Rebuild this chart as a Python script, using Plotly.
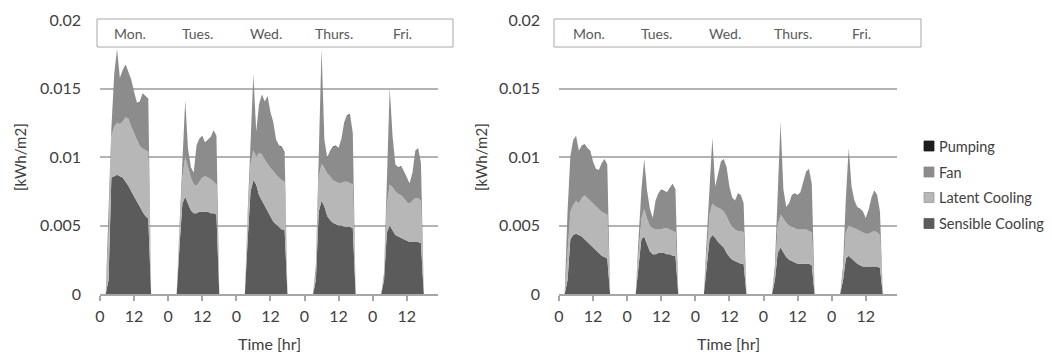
import plotly.graph_objects as go

hours = list(range(120))
tick_vals = [0, 12, 24, 36, 48, 60, 72, 84, 96, 108]
tick_text = ["0", "12", "0", "12", "0", "12", "0", "12", "0", "12"]
y_vals = [0, 0.005, 0.01, 0.015, 0.02]
y_text = ["0", "0.005", "0.01", "0.015", "0.02"]
days = ["Mon.", "Tues.", "Wed.", "Thurs.", "Fri."]
day_label_hour = [10.5, 34.5, 58.5, 82.5, 106.5]
series_names = ["Sensible Cooling", "Latent Cooling", "Fan", "Pumping"]
legend_order = ["Pumping", "Fan", "Latent Cooling", "Sensible Cooling"]

# ---------------- left panel (kWh/m2 per hour) ----------------
left_sensible = [
    0, 0, 0, 0.001, 0.0085, 0.0086, 0.0087, 0.0086, 0.0085, 0.0082, 0.0079, 0.0075, 0.0071, 0.0067, 0.0063, 0.0060, 0.0057, 0.0055, 0, 0, 0, 0, 0, 0,
    0, 0, 0, 0, 0.0035, 0.0066, 0.0071, 0.0066, 0.0061, 0.0059, 0.0059, 0.0060, 0.0060, 0.0060, 0.0060, 0.0059, 0.0059, 0.0058, 0, 0, 0, 0, 0, 0,
    0, 0, 0, 0, 0.0040, 0.0075, 0.0083, 0.0080, 0.0072, 0.0068, 0.0064, 0.0060, 0.0056, 0.0053, 0.0051, 0.0049, 0.0047, 0.0047, 0, 0, 0, 0, 0, 0,
    0, 0, 0, 0, 0.0010, 0.0060, 0.0068, 0.0064, 0.0057, 0.0054, 0.0052, 0.0051, 0.0050, 0.0050, 0.0049, 0.0049, 0.0049, 0.0048, 0, 0, 0, 0, 0, 0,
    0, 0, 0, 0, 0.0010, 0.0045, 0.0050, 0.0046, 0.0043, 0.0042, 0.0041, 0.0040, 0.0039, 0.0038, 0.0038, 0.0038, 0.0038, 0.0037, 0, 0, 0, 0, 0, 0,
]
left_latent = [
    0, 0, 0, 0.0030, 0.0030, 0.0036, 0.0038, 0.0038, 0.0041, 0.0047, 0.0049, 0.0047, 0.0046, 0.0045, 0.0045, 0.0046, 0.0048, 0.0049, 0, 0, 0, 0, 0, 0,
    0, 0, 0, 0, 0.0010, 0.0019, 0.0029, 0.0026, 0.0024, 0.0021, 0.0020, 0.0022, 0.0025, 0.0026, 0.0025, 0.0025, 0.0023, 0.0022, 0, 0, 0, 0, 0, 0,
    0, 0, 0, 0, 0.0015, 0.0020, 0.0022, 0.0020, 0.0031, 0.0034, 0.0034, 0.0035, 0.0036, 0.0037, 0.0036, 0.0036, 0.0036, 0.0035, 0, 0, 0, 0, 0, 0,
    0, 0, 0, 0, 0.0005, 0.0025, 0.0027, 0.0028, 0.0031, 0.0032, 0.0031, 0.0031, 0.0031, 0.0031, 0.0033, 0.0033, 0.0032, 0.0032, 0, 0, 0, 0, 0, 0,
    0, 0, 0, 0, 0.0002, 0.0020, 0.0030, 0.0032, 0.0032, 0.0031, 0.0031, 0.0030, 0.0028, 0.0028, 0.0030, 0.0032, 0.0032, 0.0031, 0, 0, 0, 0, 0, 0,
]
left_fan = [
    0, 0, 0, 0.0020, 0.0005, 0.0038, 0.0053, 0.0033, 0.0037, 0.0038, 0.0034, 0.0034, 0.0030, 0.0027, 0.0032, 0.0040, 0.0039, 0.0038, 0, 0, 0, 0, 0, 0,
    0, 0, 0, 0, 0.0005, 0.0010, 0.0041, 0.0013, 0.0007, 0.0008, 0.0029, 0.0031, 0.0030, 0.0024, 0.0027, 0.0030, 0.0037, 0.0035, 0, 0, 0, 0, 0, 0,
    0, 0, 0, 0, 0.0005, 0.0015, 0.0055, 0.0018, 0.0035, 0.0043, 0.0042, 0.0049, 0.0040, 0.0035, 0.0025, 0.0023, 0.0024, 0.0021, 0, 0, 0, 0, 0, 0,
    0, 0, 0, 0, 0.0005, 0.0025, 0.0084, 0.0020, 0.0011, 0.0018, 0.0024, 0.0026, 0.0025, 0.0032, 0.0043, 0.0048, 0.0050, 0.0037, 0, 0, 0, 0, 0, 0,
    0, 0, 0, 0, 0.0003, 0.0015, 0.0070, 0.0037, 0.0019, 0.0019, 0.0021, 0.0019, 0.0018, 0.0014, 0.0020, 0.0034, 0.0036, 0.0027, 0, 0, 0, 0, 0, 0,
]
left_pumping = [
    0, 0, 0, 0.00002, 0.00004, 0.00004, 0.00004, 0.00004, 0.00004, 0.00004, 0.00004, 0.00004, 0.00004, 0.00004, 0.00004, 0.00004, 0.00004, 0.00004, 0, 0, 0, 0, 0, 0,
    0, 0, 0, 0, 0.00002, 0.00004, 0.00004, 0.00004, 0.00004, 0.00004, 0.00004, 0.00004, 0.00004, 0.00004, 0.00004, 0.00004, 0.00004, 0.00004, 0, 0, 0, 0, 0, 0,
    0, 0, 0, 0, 0.00002, 0.00004, 0.00004, 0.00004, 0.00004, 0.00004, 0.00004, 0.00004, 0.00004, 0.00004, 0.00004, 0.00004, 0.00004, 0.00004, 0, 0, 0, 0, 0, 0,
    0, 0, 0, 0, 0.00002, 0.00004, 0.00004, 0.00004, 0.00004, 0.00004, 0.00004, 0.00004, 0.00004, 0.00004, 0.00004, 0.00004, 0.00004, 0.00004, 0, 0, 0, 0, 0, 0,
    0, 0, 0, 0, 0.00002, 0.00004, 0.00004, 0.00004, 0.00004, 0.00004, 0.00004, 0.00004, 0.00004, 0.00004, 0.00004, 0.00004, 0.00004, 0.00004, 0, 0, 0, 0, 0, 0,
]

# ---------------- right panel ----------------
right_sensible = [
    0, 0, 0, 0.0010, 0.0040, 0.0043, 0.0044, 0.0043, 0.0042, 0.0040, 0.0038, 0.0036, 0.0034, 0.0032, 0.0030, 0.0028, 0.0027, 0.0026, 0, 0, 0, 0, 0, 0,
    0, 0, 0, 0, 0.0020, 0.0040, 0.0042, 0.0036, 0.0031, 0.0029, 0.0029, 0.0030, 0.0030, 0.0030, 0.0029, 0.0029, 0.0028, 0.0028, 0, 0, 0, 0, 0, 0,
    0, 0, 0, 0, 0.0020, 0.0040, 0.0043, 0.0041, 0.0038, 0.0036, 0.0034, 0.0030, 0.0027, 0.0025, 0.0024, 0.0023, 0.0022, 0.0022, 0, 0, 0, 0, 0, 0,
    0, 0, 0, 0, 0.0010, 0.0030, 0.0034, 0.0030, 0.0027, 0.0025, 0.0024, 0.0023, 0.0022, 0.0022, 0.0022, 0.0022, 0.0022, 0.0021, 0, 0, 0, 0, 0, 0,
    0, 0, 0, 0, 0.0010, 0.0026, 0.0028, 0.0026, 0.0024, 0.0022, 0.0021, 0.0020, 0.0020, 0.0020, 0.0020, 0.0020, 0.0020, 0.0019, 0, 0, 0, 0, 0, 0,
]
right_latent = [
    0, 0, 0, 0.0020, 0.0020, 0.0022, 0.0024, 0.0023, 0.0028, 0.0032, 0.0032, 0.0032, 0.0032, 0.0032, 0.0032, 0.0032, 0.0032, 0.0032, 0, 0, 0, 0, 0, 0,
    0, 0, 0, 0, 0.0010, 0.0015, 0.0020, 0.0019, 0.0019, 0.0019, 0.0018, 0.0017, 0.0017, 0.0018, 0.0019, 0.0018, 0.0018, 0.0017, 0, 0, 0, 0, 0, 0,
    0, 0, 0, 0, 0.0010, 0.0018, 0.0023, 0.0023, 0.0025, 0.0026, 0.0026, 0.0027, 0.0025, 0.0024, 0.0023, 0.0023, 0.0024, 0.0023, 0, 0, 0, 0, 0, 0,
    0, 0, 0, 0, 0.0005, 0.0020, 0.0024, 0.0025, 0.0025, 0.0025, 0.0025, 0.0025, 0.0025, 0.0025, 0.0025, 0.0025, 0.0024, 0.0024, 0, 0, 0, 0, 0, 0,
    0, 0, 0, 0, 0.0005, 0.0019, 0.0022, 0.0023, 0.0024, 0.0025, 0.0025, 0.0025, 0.0024, 0.0024, 0.0025, 0.0026, 0.0025, 0.0024, 0, 0, 0, 0, 0, 0,
]
right_fan = [
    0, 0, 0, 0.0030, 0.0040, 0.0047, 0.0047, 0.0038, 0.0038, 0.0037, 0.0036, 0.0036, 0.0030, 0.0027, 0.0028, 0.0035, 0.0039, 0.0036, 0, 0, 0, 0, 0, 0,
    0, 0, 0, 0, 0.0010, 0.0020, 0.0036, 0.0020, 0.0012, 0.0007, 0.0021, 0.0026, 0.0029, 0.0027, 0.0026, 0.0030, 0.0034, 0.0031, 0, 0, 0, 0, 0, 0,
    0, 0, 0, 0, 0.0010, 0.0022, 0.0048, 0.0014, 0.0025, 0.0034, 0.0038, 0.0035, 0.0026, 0.0021, 0.0021, 0.0027, 0.0026, 0.0021, 0, 0, 0, 0, 0, 0,
    0, 0, 0, 0, 0.0005, 0.0030, 0.0067, 0.0021, 0.0011, 0.0016, 0.0023, 0.0025, 0.0025, 0.0027, 0.0035, 0.0042, 0.0045, 0.0035, 0, 0, 0, 0, 0, 0,
    0, 0, 0, 0, 0.0005, 0.0025, 0.0056, 0.0029, 0.0020, 0.0016, 0.0016, 0.0015, 0.0011, 0.0017, 0.0025, 0.0029, 0.0027, 0.0017, 0, 0, 0, 0, 0, 0,
]
right_pumping = [
    0, 0, 0, 0.00002, 0.00003, 0.00003, 0.00003, 0.00003, 0.00003, 0.00003, 0.00003, 0.00003, 0.00003, 0.00003, 0.00003, 0.00003, 0.00003, 0.00003, 0, 0, 0, 0, 0, 0,
    0, 0, 0, 0, 0.00002, 0.00003, 0.00003, 0.00003, 0.00003, 0.00003, 0.00003, 0.00003, 0.00003, 0.00003, 0.00003, 0.00003, 0.00003, 0.00003, 0, 0, 0, 0, 0, 0,
    0, 0, 0, 0, 0.00002, 0.00003, 0.00003, 0.00003, 0.00003, 0.00003, 0.00003, 0.00003, 0.00003, 0.00003, 0.00003, 0.00003, 0.00003, 0.00003, 0, 0, 0, 0, 0, 0,
    0, 0, 0, 0, 0.00002, 0.00003, 0.00003, 0.00003, 0.00003, 0.00003, 0.00003, 0.00003, 0.00003, 0.00003, 0.00003, 0.00003, 0.00003, 0.00003, 0, 0, 0, 0, 0, 0,
    0, 0, 0, 0, 0.00002, 0.00003, 0.00003, 0.00003, 0.00003, 0.00003, 0.00003, 0.00003, 0.00003, 0.00003, 0.00003, 0.00003, 0.00003, 0.00003, 0, 0, 0, 0, 0, 0,
]

colors = {
    "Sensible Cooling": "#5b5b5b",
    "Latent Cooling": "#b7b7b7",
    "Fan": "#8c8c8c",
    "Pumping": "#1c1c1c",
}

# the page body has an 8px margin, so the figure is drawn 8px smaller and
# reference pixel positions are shifted by that offset
OFF = 8
W, H = 1052 - OFF, 356 - OFF
FONT = "Lato, 'Open Sans', sans-serif"
TXT = "#404040"


def px_x(p):
    return (p - OFF) / W


def px_y(p):
    return 1 - (p - OFF) / H


panels = [
    dict(xa="x", ya="y", dom=(100, 438), data=[left_sensible, left_latent, left_fan, left_pumping], box=(97, 453), ytitle_x=20),
    dict(xa="x2", ya="y2", dom=(559, 897), data=[right_sensible, right_latent, right_fan, right_pumping], box=(554, 921), ytitle_x=481),
]

fig = go.Figure()
shapes = []
annotations = []

for i, p in enumerate(panels):
    sg = "s%d" % i
    for name, vals in zip(series_names, p["data"]):
        fig.add_trace(go.Scatter(
            x=hours, y=vals, name=name, mode="lines",
            stackgroup=sg, xaxis=p["xa"], yaxis=p["ya"],
            line=dict(width=0, color=colors[name]),
            fillcolor=colors[name], showlegend=False,
            hoverinfo="x+y+name",
        ))
    # day label box
    shapes.append(dict(type="rect", xref="paper", yref="paper",
                       x0=px_x(p["box"][0]), x1=px_x(p["box"][1]),
                       y0=px_y(47), y1=px_y(19),
                       line=dict(color="#a8a8a8", width=1), fillcolor="white", layer="above"))
    for d, h in zip(days, day_label_hour):
        annotations.append(dict(text=d, x=h, y=px_y(33), xref=p["xa"], yref="paper",
                                showarrow=False, font=dict(family=FONT, size=14, color="#595959"),
                                xanchor="center", yanchor="middle"))
    # axis titles
    annotations.append(dict(text="[kWh/m2]", x=px_x(p["ytitle_x"]), y=px_y(157), xref="paper", yref="paper",
                            textangle=-90, showarrow=False, font=dict(family=FONT, size=15, color=TXT),
                            xanchor="center", yanchor="middle"))
    annotations.append(dict(text="Time [hr]", x=px_x((p["dom"][0] + p["dom"][1]) / 2), y=px_y(343),
                            xref="paper", yref="paper", showarrow=False,
                            font=dict(family=FONT, size=16, color=TXT), xanchor="center", yanchor="middle"))

# manual legend
leg_y = [146, 172, 197.5, 223.5]
for name, yy in zip(legend_order, leg_y):
    shapes.append(dict(type="rect", xref="paper", yref="paper",
                       x0=px_x(924), x1=px_x(934), y0=px_y(yy + 5), y1=px_y(yy - 5),
                       line=dict(color="#9a9a9a" if name == "Latent Cooling" else colors[name], width=0.8),
                       fillcolor=colors[name]))
    annotations.append(dict(text=name, x=px_x(937), y=px_y(yy), xref="paper", yref="paper",
                            showarrow=False, xanchor="left", yanchor="middle",
                            font=dict(family=FONT, size=14.5, color=TXT)))

axis_common_x = dict(range=[0, 119], tickmode="array", tickvals=tick_vals, ticktext=tick_text,
                     showgrid=False, zeroline=False, showline=True, linecolor="#a6a6a6", linewidth=1.5,
                     ticks="outside", ticklen=5, tickcolor="#a6a6a6", tickwidth=1.5,
                     tickfont=dict(family=FONT, size=16, color=TXT), ticklabelstandoff=2,
                     layer="above traces", fixedrange=True, automargin=False)
axis_common_y = dict(range=[0, 0.02], tickmode="array", tickvals=y_vals, ticktext=y_text,
                     showgrid=True, gridcolor="#b3b3b3", gridwidth=1.6, zeroline=False, showline=False,
                     ticks="", tickfont=dict(family=FONT, size=16, color=TXT), ticklabelstandoff=18,
                     fixedrange=True, automargin=False)

fig.update_layout(
    width=W, height=H,
    margin=dict(l=0, r=0, t=0, b=0, autoexpand=False),
    paper_bgcolor="white", plot_bgcolor="white",
    showlegend=False,
    xaxis=dict(domain=[px_x(100), px_x(438)], anchor="y", **axis_common_x),
    yaxis=dict(domain=[px_y(294), px_y(20)], anchor="x", **axis_common_y),
    xaxis2=dict(domain=[px_x(559), px_x(897)], anchor="y2", **axis_common_x),
    yaxis2=dict(domain=[px_y(294), px_y(20)], anchor="x2", **axis_common_y),
    shapes=shapes,
    annotations=annotations,
)

fig.write_html("out.html")
